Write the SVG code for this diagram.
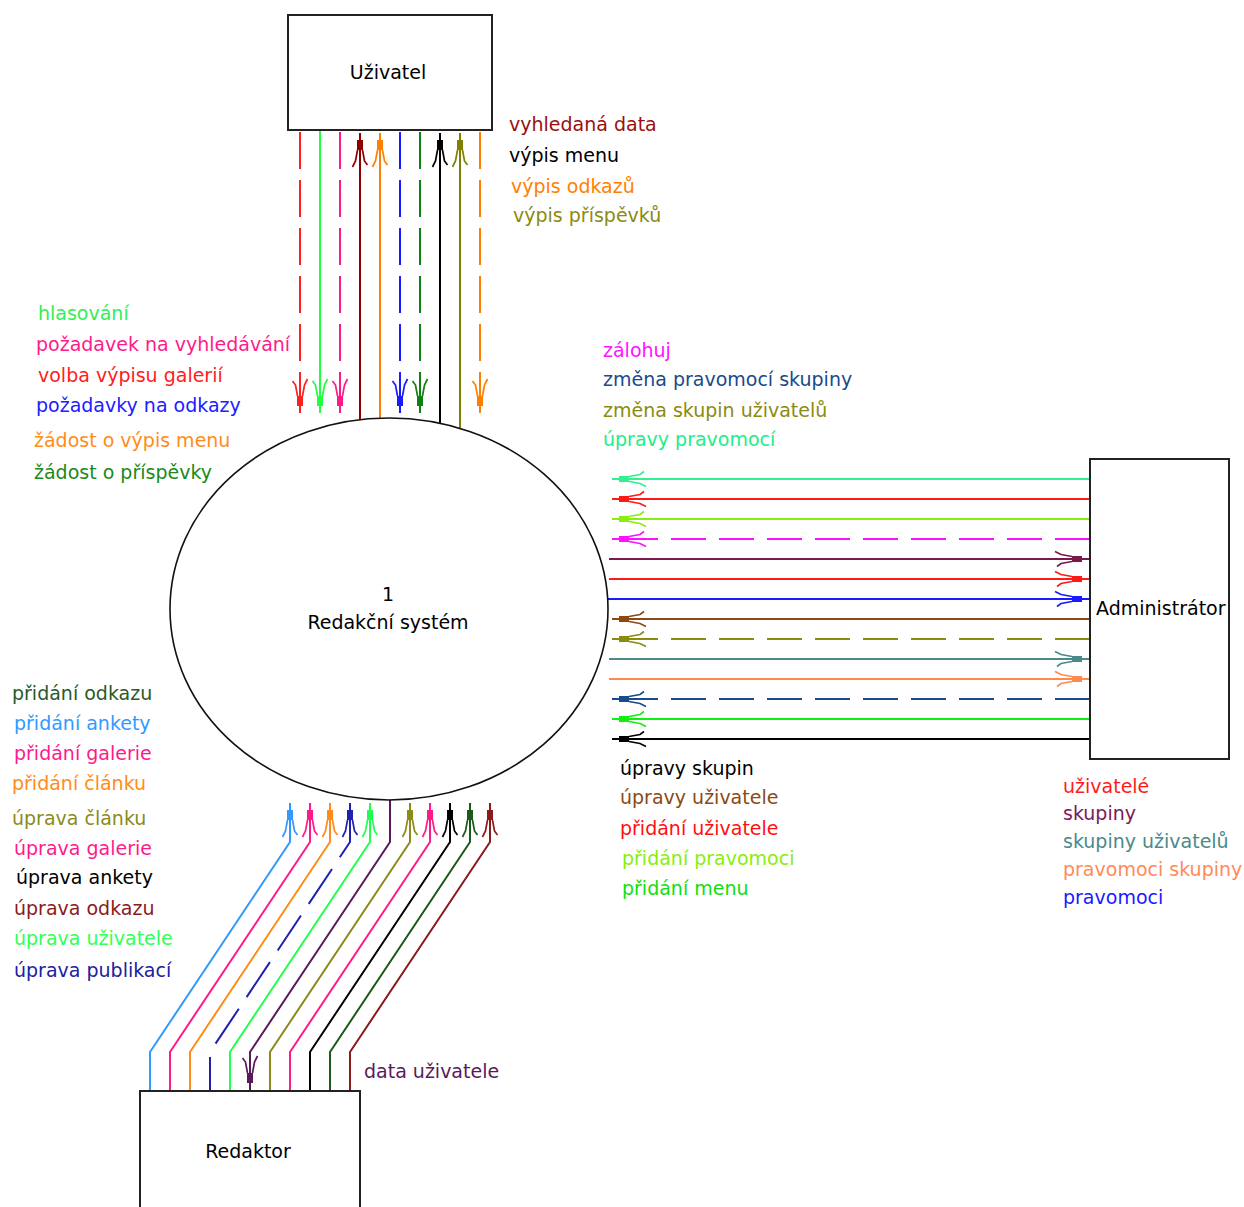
<svg xmlns="http://www.w3.org/2000/svg" xmlns:xlink="http://www.w3.org/1999/xlink" width="1244" height="1207" viewBox="0 0 1244 1207">
<style>
text{font-family:"DejaVu Sans","Liberation Sans",sans-serif;font-size:19px}
.box{fill:#fff;stroke:#222;stroke-width:2}
.ln{fill:none;stroke-width:2}
.dv{stroke-dasharray:37 11}
.dh{stroke-dasharray:35 13}
</style>
<defs>
<g id="ah">
<path d="M-18 0H0" stroke="currentColor" stroke-width="2" fill="none"/>
<rect x="-17" y="-3" width="10" height="6" fill="currentColor"/>
<polyline points="-17,-2.5 -28,-4.5 -34,-7.5" stroke="currentColor" stroke-width="1.7" fill="none"/>
<polyline points="-17,2.5 -28,4.5 -32,7.5" stroke="currentColor" stroke-width="1.7" fill="none"/>
</g>
</defs>
<rect width="1244" height="1207" fill="#fff"/>

<g id="connectors">
<path class="ln dv" stroke="#ff2020" d="M300 132V413"/>
<use href="#ah" color="#ff2020" transform="translate(300,413) rotate(90)"/>
<path class="ln" stroke="#20ff40" d="M320 131V413"/>
<use href="#ah" color="#20ff40" transform="translate(320,413) rotate(90)"/>
<path class="ln dv" stroke="#ff1a8c" d="M340 132V413"/>
<use href="#ah" color="#ff1a8c" transform="translate(340,413) rotate(90)"/>
<path class="ln" stroke="#900000" d="M360 420V133"/>
<use href="#ah" color="#900000" transform="translate(360,133) rotate(-90)"/>
<path class="ln" stroke="#ff8000" d="M380 418V133"/>
<use href="#ah" color="#ff8000" transform="translate(380,133) rotate(-90)"/>
<path class="ln dv" stroke="#1a1aff" d="M400 132V413"/>
<use href="#ah" color="#1a1aff" transform="translate(400,413) rotate(90)"/>
<path class="ln dv" stroke="#108010" d="M420 132V413"/>
<use href="#ah" color="#108010" transform="translate(420,413) rotate(90)"/>
<path class="ln" stroke="#000" d="M440 423V133"/>
<use href="#ah" color="#000" transform="translate(440,133) rotate(-90)"/>
<path class="ln" stroke="#808000" d="M460 428V133"/>
<use href="#ah" color="#808000" transform="translate(460,133) rotate(-90)"/>
<path class="ln dv" stroke="#ff8000" d="M480 132V413"/>
<use href="#ah" color="#ff8000" transform="translate(480,413) rotate(90)"/>

<path class="ln" stroke="#30f090" d="M1090 479H612"/>
<use href="#ah" color="#30f090" transform="translate(612,479) rotate(180)"/>
<path class="ln" stroke="#ff1a1a" d="M1090 499H612"/>
<use href="#ah" color="#ff1a1a" transform="translate(612,499) rotate(180)"/>
<path class="ln" stroke="#88ee10" d="M1090 519H612"/>
<use href="#ah" color="#88ee10" transform="translate(612,519) rotate(180)"/>
<path class="ln dh" stroke="#ff10ff" d="M1090 539H612"/>
<use href="#ah" color="#ff10ff" transform="translate(612,539) rotate(180)"/>
<path class="ln" stroke="#7a1a4a" d="M609 559H1089"/>
<use href="#ah" color="#7a1a4a" transform="translate(1089,559)"/>
<path class="ln" stroke="#ff1a1a" d="M609 579H1089"/>
<use href="#ah" color="#ff1a1a" transform="translate(1089,579)"/>
<path class="ln" stroke="#1a1aff" d="M608 599H1089"/>
<use href="#ah" color="#1a1aff" transform="translate(1089,599)"/>
<path class="ln" stroke="#8b4a14" d="M1090 619H612"/>
<use href="#ah" color="#8b4a14" transform="translate(612,619) rotate(180)"/>
<path class="ln dh" stroke="#8b8b10" d="M1090 639H612"/>
<use href="#ah" color="#8b8b10" transform="translate(612,639) rotate(180)"/>
<path class="ln" stroke="#4a8a8a" d="M609 659H1089"/>
<use href="#ah" color="#4a8a8a" transform="translate(1089,659)"/>
<path class="ln" stroke="#ff8a50" d="M609 679H1089"/>
<use href="#ah" color="#ff8a50" transform="translate(1089,679)"/>
<path class="ln dh" stroke="#1a4a8a" d="M1090 699H612"/>
<use href="#ah" color="#1a4a8a" transform="translate(612,699) rotate(180)"/>
<path class="ln" stroke="#10f010" d="M1090 719H612"/>
<use href="#ah" color="#10f010" transform="translate(612,719) rotate(180)"/>
<path class="ln" stroke="#000" d="M1090 739H612"/>
<use href="#ah" color="#000" transform="translate(612,739) rotate(180)"/>

<path class="ln" stroke="#3399ff" d="M150 1091V1052L290 842V803"/>
<use href="#ah" color="#3399ff" transform="translate(290,803) rotate(-90)"/>
<path class="ln" stroke="#ff1a8c" d="M170 1091V1052L310 842V803"/>
<use href="#ah" color="#ff1a8c" transform="translate(310,803) rotate(-90)"/>
<path class="ln" stroke="#ff8c1a" d="M190 1091V1052L330 842V803"/>
<use href="#ah" color="#ff8c1a" transform="translate(330,803) rotate(-90)"/>
<path class="ln" stroke="#2020b0" stroke-dasharray="34 15 42 14 42 14 42 14 42 14 42 14 42 14" d="M210 1091V1052L350 842V803"/>
<use href="#ah" color="#2020b0" transform="translate(350,803) rotate(-90)"/>
<path class="ln" stroke="#20ff50" d="M230 1091V1052L370 842V803"/>
<use href="#ah" color="#20ff50" transform="translate(370,803) rotate(-90)"/>
<path class="ln" stroke="#5a1a5a" d="M390 800V842L250 1052V1090"/>
<use href="#ah" color="#5a1a5a" transform="translate(250,1090) rotate(90)"/>
<path class="ln" stroke="#8b8b1a" d="M270 1091V1052L410 842V803"/>
<use href="#ah" color="#8b8b1a" transform="translate(410,803) rotate(-90)"/>
<path class="ln" stroke="#ff1a8c" d="M290 1091V1052L430 842V803"/>
<use href="#ah" color="#ff1a8c" transform="translate(430,803) rotate(-90)"/>
<path class="ln" stroke="#000" d="M310 1091V1052L450 842V803"/>
<use href="#ah" color="#000" transform="translate(450,803) rotate(-90)"/>
<path class="ln" stroke="#1a5a1a" d="M330 1091V1052L470 842V803"/>
<use href="#ah" color="#1a5a1a" transform="translate(470,803) rotate(-90)"/>
<path class="ln" stroke="#8b1a1a" d="M350 1091V1052L490 842V803"/>
<use href="#ah" color="#8b1a1a" transform="translate(490,803) rotate(-90)"/>
</g>

<g id="uzivatel">
<rect class="box" x="288" y="15" width="204" height="115"/>
<text x="388" y="79" text-anchor="middle">Uživatel</text>
</g>

<g id="system">
<ellipse cx="389" cy="609" rx="219" ry="191" fill="none" stroke="#111" stroke-width="1.6"/>
<text x="388" y="601" text-anchor="middle">1</text>
<text x="388" y="629" text-anchor="middle">Redakční systém</text>
</g>

<g id="administrator">
<rect class="box" x="1090" y="459" width="139" height="300"/>
<text x="1096" y="615">Administrátor</text>
</g>

<g id="redaktor">
<rect class="box" x="140" y="1091" width="220" height="130"/>
<text x="248" y="1158" text-anchor="middle">Redaktor</text>
</g>

<g id="labels">
<text x="38" y="320" fill="#33ee55">hlasování</text>
<text x="36" y="351" fill="#ff1a8c">požadavek na vyhledávání</text>
<text x="38" y="382" fill="#ff2020">volba výpisu galerií</text>
<text x="36" y="412" fill="#2020ff">požadavky na odkazy</text>
<text x="34" y="447" fill="#ff8c1a">žádost o výpis menu</text>
<text x="34" y="479" fill="#1a8a1a">žádost o příspěvky</text>

<text x="509" y="131" fill="#990f0f">vyhledaná data</text>
<text x="509" y="162" fill="#000">výpis menu</text>
<text x="511" y="193" fill="#ff8000">výpis odkazů</text>
<text x="513" y="222" fill="#8b8b10">výpis příspěvků</text>

<text x="603" y="357" fill="#ff10ff">zálohuj</text>
<text x="603" y="386" fill="#1a4a8a">změna pravomocí skupiny</text>
<text x="603" y="417" fill="#8b8b10">změna skupin uživatelů</text>
<text x="603" y="446" fill="#22ee88">úpravy pravomocí</text>

<text x="620" y="775" fill="#000">úpravy skupin</text>
<text x="620" y="804" fill="#8b4a14">úpravy uživatele</text>
<text x="620" y="835" fill="#ff1010">přidání uživatele</text>
<text x="622" y="865" fill="#88ee10">přidání pravomoci</text>
<text x="622" y="895" fill="#10e010">přidání menu</text>

<text x="1063" y="793" fill="#ff1a1a">uživatelé</text>
<text x="1063" y="820" fill="#7a1a5a">skupiny</text>
<text x="1063" y="848" fill="#4a8a8a">skupiny uživatelů</text>
<text x="1063" y="876" fill="#ff8a5a">pravomoci skupiny</text>
<text x="1063" y="904" fill="#1a1aff">pravomoci</text>

<text x="12" y="700" fill="#2a5a2a">přidání odkazu</text>
<text x="14" y="730" fill="#3399ff">přidání ankety</text>
<text x="14" y="760" fill="#ff1a8c">přidání galerie</text>
<text x="12" y="790" fill="#ff8c1a">přidání článku</text>
<text x="12" y="825" fill="#8b8b1a">úprava článku</text>
<text x="14" y="855" fill="#ff1a8c">úprava galerie</text>
<text x="16" y="884" fill="#000">úprava ankety</text>
<text x="14" y="915" fill="#8b1a1a">úprava odkazu</text>
<text x="14" y="945" fill="#33ff55">úprava uživatele</text>
<text x="14" y="977" fill="#2020a0">úprava publikací</text>

<text x="364" y="1078" fill="#5a1a5a">data uživatele</text>
</g>
</svg>
